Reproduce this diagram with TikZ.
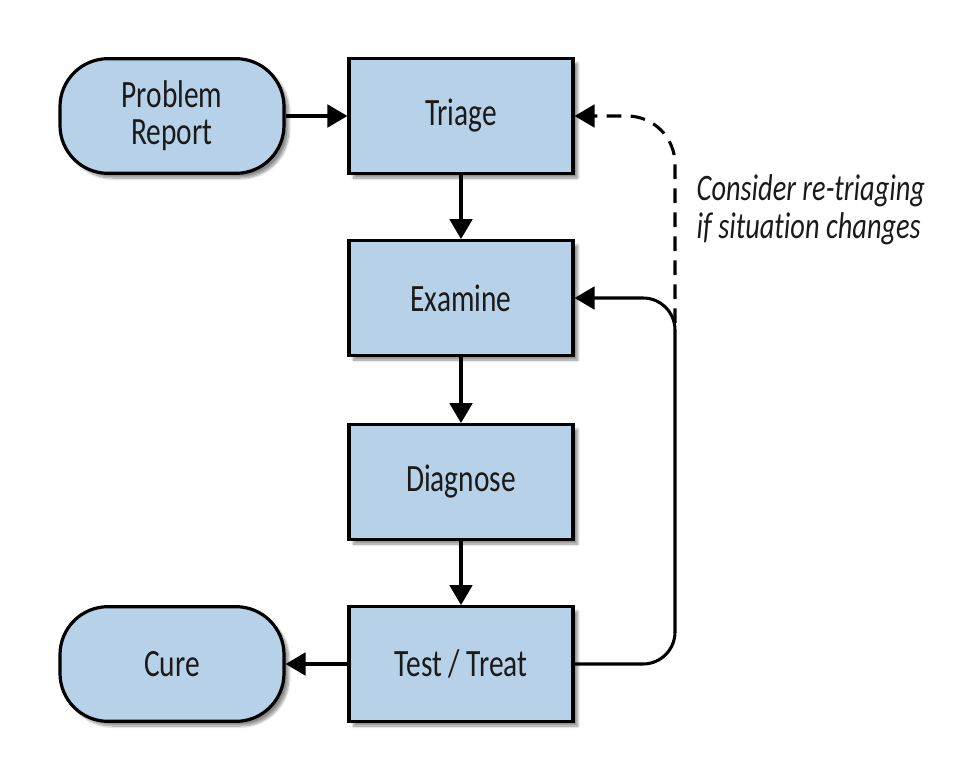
\documentclass[tikz,border=0pt]{standalone}
\usepackage{fontspec}
\setmainfont{Carlito}[FakeStretch=0.76, Ligatures=NoCommon]
\usetikzlibrary{arrows.meta,shadows.blur}
\definecolor{boxblue}{HTML}{B7D2E8}
\definecolor{ink}{HTML}{1A1A1A}
\begin{document}
\begin{tikzpicture}[x=0.75pt,y=-0.75pt,
  base/.style={draw=black, line width=2.4pt, fill=boxblue,
    minimum width=168pt, minimum height=86pt, align=center,
    text=ink, font=\fontsize{29}{28}\selectfont,
    blur shadow={shadow xshift=3.5pt, shadow yshift=-3.5pt,
      shadow blur steps=8, shadow opacity=45}},
  stepbox/.style={base},
  endbox/.style={base, rounded corners=36pt},
  flow/.style={line width=2.3pt, -{Triangle[length=15pt,width=17pt]}},
  note/.style={font=\itshape\fontsize{28}{28.5}\selectfont, text=ink, align=left, anchor=west}]

% canvas
\useasboundingbox (0,0) rectangle (979,764);

% process boxes
\node[endbox]  (report)   at (172,116) {Problem\\Report};
\node[stepbox] (triage)   at (461,116) {Triage};
\node[stepbox] (examine)  at (461,298) {Examine};
\node[stepbox] (diagnose) at (461,482) {Diagnose};
\node[stepbox] (test)     at (461,664) {Test / Treat};
\node[endbox]  (cure)     at (172,664) {Cure};

% main flow
\draw[flow] (report) -- (triage);
\draw[flow] (triage) -- (examine);
\draw[flow] (examine) -- (diagnose);
\draw[flow] (diagnose) -- (test);
\draw[flow] (test) -- (cure);

% feedback loops
\coordinate (bend)  at (675,0);
\coordinate (split) at (675,323);
\draw[flow, rounded corners=24pt] (test.east) -- (test.east -| bend) -- (examine.east -| bend) -- (examine.east);
\draw[flow, dash pattern=on 11pt off 7pt, rounded corners=36pt]
  (split) -- (split |- triage.east) -- (triage.east);

% annotation
\node[note] (hint) at (692,210) {Consider re-triaging\\if situation changes};
\end{tikzpicture}
\end{document}
